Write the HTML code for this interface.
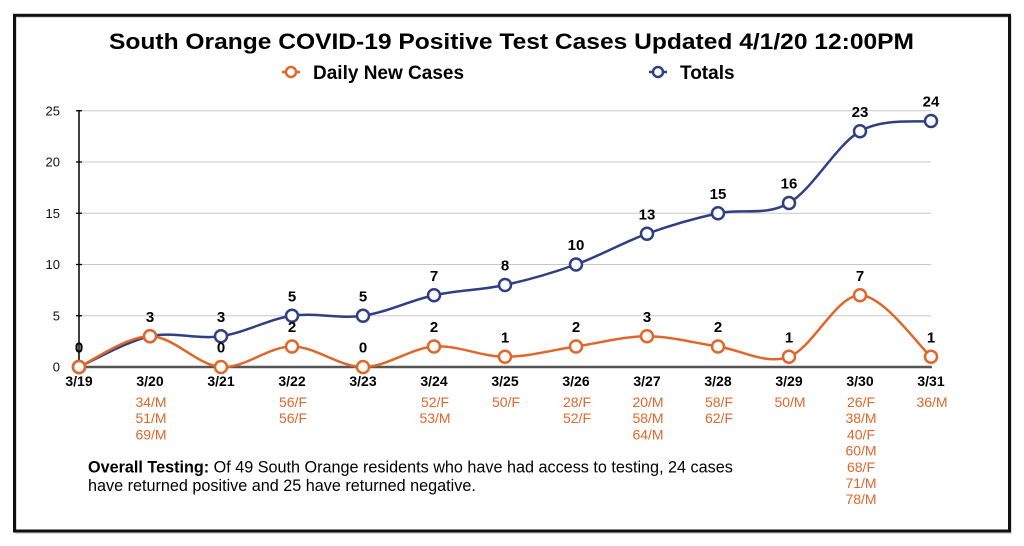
<!DOCTYPE html>
<html><head><meta charset="utf-8"><style>
html,body{margin:0;padding:0;background:#fff;}
svg{display:block;font-family:"Liberation Sans",Arial,Helvetica,sans-serif;}
</style></head><body>
<svg width="1024" height="546" viewBox="0 0 1024 546" xmlns="http://www.w3.org/2000/svg">
<rect x="0" y="0" width="1024" height="546" fill="#fff"/>
<rect x="16" y="17" width="995" height="516" fill="none" stroke="#cfcfcf" stroke-width="1.5"/>
<rect x="14.5" y="15.3" width="995" height="515.7" fill="none" stroke="#111" stroke-width="3"/>

<text x="511.5" y="49" font-size="22" font-weight="bold" text-anchor="middle" textLength="805" lengthAdjust="spacingAndGlyphs" fill="#000">South Orange COVID-19 Positive Test Cases Updated 4/1/20 12:00PM</text>

<!-- legend -->
<g stroke="#e0662a" stroke-width="2.5" fill="#fff">
<line x1="282" y1="72" x2="300" y2="72"/>
<circle cx="291" cy="72" r="5"/>
</g>
<text x="313" y="79" font-size="19" font-weight="bold" fill="#000">Daily New Cases</text>
<g stroke="#2f3f84" stroke-width="2.5" fill="#fff">
<line x1="649" y1="72" x2="667" y2="72"/>
<circle cx="658" cy="72" r="5"/>
</g>
<text x="680" y="79" font-size="19" font-weight="bold" fill="#000">Totals</text>

<!-- grid -->
<g stroke="#c8c8c8" stroke-width="1">
<line x1="79" y1="110.75" x2="931" y2="110.75"/>
<line x1="79" y1="162" x2="931" y2="162"/>
<line x1="79" y1="213.25" x2="931" y2="213.25"/>
<line x1="79" y1="264.5" x2="931" y2="264.5"/>
<line x1="79" y1="315.75" x2="931" y2="315.75"/>
</g>
<line x1="79" y1="110" x2="79" y2="367" stroke="#000" stroke-width="1.5"/>
<g stroke="#000" stroke-width="1.3">
<line x1="76" y1="110.75" x2="82" y2="110.75"/>
<line x1="76" y1="162" x2="82" y2="162"/>
<line x1="76" y1="213.25" x2="82" y2="213.25"/>
<line x1="76" y1="264.5" x2="82" y2="264.5"/>
<line x1="76" y1="315.75" x2="82" y2="315.75"/>
</g>
<line x1="79" y1="367" x2="932" y2="367" stroke="#555" stroke-width="2.5"/>

<g font-size="13" text-anchor="end" fill="#111">
<text x="60" y="115.5">25</text>
<text x="60" y="166.5">20</text>
<text x="60" y="218">15</text>
<text x="60" y="269">10</text>
<text x="60" y="320.5">5</text>
<text x="60" y="371.5">0</text>
</g>

<!-- totals line -->
<path fill="none" stroke="#2f3f84" stroke-width="2.5" d="M79,367 C90.83,361.875 126.33,341.375 150,336.25 C173.67,331.125 197.33,339.67 221,336.25 C244.67,332.83 268.33,319.17 292,315.75 C315.67,312.33 339.33,319.17 363,315.75 C386.67,312.33 410.33,300.375 434,295.25 C457.67,290.125 481.33,290.125 505,285 C528.67,279.875 552.33,273.04 576,264.5 C599.67,255.96 623.33,242.29 647,233.75 C670.67,225.21 694.33,218.375 718,213.25 C741.67,208.125 765.33,216.67 789,203 C812.67,189.33 836.33,144.92 860,131.25 C883.67,117.58 919.17,122.71 931,121"/>
<g stroke="#2f3f84" stroke-width="2.5" fill="#fff">
<circle cx="79" cy="367" r="6"/>
<circle cx="150" cy="336.25" r="6"/>
<circle cx="221" cy="336.25" r="6"/>
<circle cx="292" cy="315.75" r="6"/>
<circle cx="363" cy="315.75" r="6"/>
<circle cx="434" cy="295.25" r="6"/>
<circle cx="505" cy="285" r="6"/>
<circle cx="576" cy="264.5" r="6"/>
<circle cx="647" cy="233.75" r="6"/>
<circle cx="718" cy="213.25" r="6"/>
<circle cx="789" cy="203" r="6"/>
<circle cx="860" cy="131.25" r="6"/>
<circle cx="931" cy="121" r="6"/>
</g>

<!-- daily line -->
<path fill="none" stroke="#e0662a" stroke-width="2.5" d="M79,367 C90.83,361.875 126.33,336.25 150,336.25 C173.67,336.25 197.33,365.29 221,367 C244.67,368.71 268.33,346.5 292,346.5 C315.67,346.5 339.33,367 363,367 C386.67,367 410.33,348.21 434,346.5 C457.67,344.79 481.33,356.75 505,356.75 C528.67,356.75 552.33,349.92 576,346.5 C599.67,343.08 623.33,336.25 647,336.25 C670.67,336.25 694.33,343.08 718,346.5 C741.67,349.92 765.33,365.29 789,356.75 C812.67,348.21 836.33,295.25 860,295.25 C883.67,295.25 919.17,346.5 931,356.75"/>
<g stroke="#e0662a" stroke-width="2.5" fill="#fff">
<circle cx="79" cy="367" r="6"/>
<circle cx="150" cy="336.25" r="6"/>
<circle cx="221" cy="367" r="6"/>
<circle cx="292" cy="346.5" r="6"/>
<circle cx="363" cy="367" r="6"/>
<circle cx="434" cy="346.5" r="6"/>
<circle cx="505" cy="356.75" r="6"/>
<circle cx="576" cy="346.5" r="6"/>
<circle cx="647" cy="336.25" r="6"/>
<circle cx="718" cy="346.5" r="6"/>
<circle cx="789" cy="356.75" r="6"/>
<circle cx="860" cy="295.25" r="6"/>
<circle cx="931" cy="356.75" r="6"/>
</g>

<!-- value labels -->
<g font-size="15" font-weight="bold" text-anchor="middle" fill="#000">
<text x="79" y="352.5">0</text>
<text x="150" y="321.75">3</text>
<text x="221" y="321.75">3</text>
<text x="292" y="301.25">5</text>
<text x="363" y="301.25">5</text>
<text x="434" y="280.75">7</text>
<text x="505" y="270.5">8</text>
<text x="576" y="250">10</text>
<text x="647" y="219.25">13</text>
<text x="718" y="198.75">15</text>
<text x="789" y="188.5">16</text>
<text x="860" y="116.75">23</text>
<text x="931" y="106.5">24</text>

<text x="79" y="352.5">0</text>
<text x="221" y="352.5">0</text>
<text x="292" y="332">2</text>
<text x="363" y="352.5">0</text>
<text x="434" y="332">2</text>
<text x="505" y="342.25">1</text>
<text x="576" y="332">2</text>
<text x="647" y="321.75">3</text>
<text x="718" y="332">2</text>
<text x="789" y="342.25">1</text>
<text x="860" y="280.75">7</text>
<text x="931" y="342.25">1</text>
</g>

<!-- x labels -->
<g font-size="14" font-weight="bold" text-anchor="middle" fill="#000">
<text x="79" y="386">3/19</text>
<text x="150" y="386">3/20</text>
<text x="221" y="386">3/21</text>
<text x="292" y="386">3/22</text>
<text x="363" y="386">3/23</text>
<text x="434" y="386">3/24</text>
<text x="505" y="386">3/25</text>
<text x="576" y="386">3/26</text>
<text x="647" y="386">3/27</text>
<text x="718" y="386">3/28</text>
<text x="789" y="386">3/29</text>
<text x="860" y="386">3/30</text>
<text x="931" y="386">3/31</text>
</g>

<!-- case labels -->
<g font-size="14" text-anchor="middle" fill="#e0662a">
<text x="151" y="407">34/M</text>
<text x="151" y="423.2">51/M</text>
<text x="151" y="439.4">69/M</text>
<text x="293" y="407">56/F</text>
<text x="293" y="423.2">56/F</text>
<text x="435" y="407">52/F</text>
<text x="435" y="423.2">53/M</text>
<text x="506" y="407">50/F</text>
<text x="577" y="407">28/F</text>
<text x="577" y="423.2">52/F</text>
<text x="648" y="407">20/M</text>
<text x="648" y="423.2">58/M</text>
<text x="648" y="439.4">64/M</text>
<text x="719" y="407">58/F</text>
<text x="719" y="423.2">62/F</text>
<text x="790" y="407">50/M</text>
<text x="861" y="407">26/F</text>
<text x="861" y="423.2">38/M</text>
<text x="861" y="439.4">40/F</text>
<text x="861" y="455.6">60/M</text>
<text x="861" y="471.8">68/F</text>
<text x="861" y="488">71/M</text>
<text x="861" y="504.2">78/M</text>
<text x="932" y="407">36/M</text>
</g>

<!-- footnote -->
<g font-size="16.2" fill="#000">
<text x="88" y="472.3"><tspan font-weight="bold">Overall Testing:</tspan> Of 49 South Orange residents who have had access to testing, 24 cases</text>
<text x="88" y="491">have returned positive and 25 have returned negative.</text>
</g>
</svg>
</body></html>
